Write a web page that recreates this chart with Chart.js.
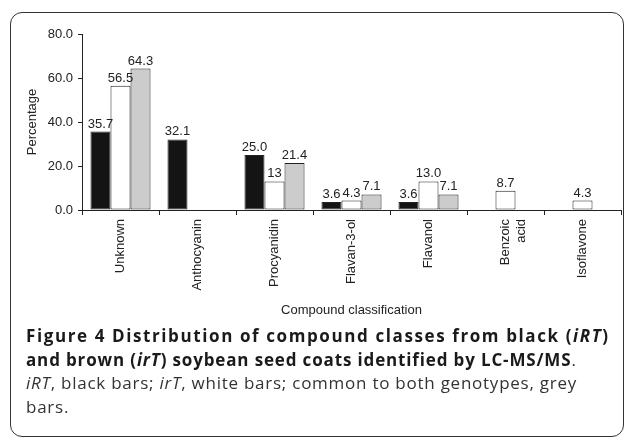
<!DOCTYPE html>
<html>
<head>
<meta charset="utf-8">
<script src="https://cdn.jsdelivr.net/npm/chart.js@4"></script>
<style>
  body { margin: 0; background: #fff; width: 630px; height: 440px; position: relative; overflow: hidden; }
  #frame {
    position: absolute; left: 10px; top: 12px; width: 614px; height: 425px;
    border: 1.5px solid #333; border-radius: 12px; box-sizing: border-box;
  }
  #chart { position: absolute; left: 0; top: 0; }
  #caption {
    position: absolute; left: 26px; top: 324px; width: 600px;
    font-family: "Open Sans", "Noto Sans", sans-serif; font-size: 17px; line-height: 23.5px;
    color: #333; white-space: nowrap; letter-spacing: 0.75px;
  }
  #caption b { color: #1a1a1a; font-weight: 700; letter-spacing: 1.6px; }
  #caption b.tight { letter-spacing: 0.85px; }
</style>
</head>
<body>
<div id="frame"></div>
<canvas id="chart" width="630" height="330"></canvas>
<div id="caption">
  <b>Figure 4 Distribution of compound classes from black (<i>iRT</i>)</b><br>
  <b class="tight">and brown (<i>irT</i>) soybean seed coats identified by LC-MS/MS</b>.<br>
  <i>iRT</i>, black bars; <i>irT</i>, white bars; common to both genotypes, grey<br>
  bars.
</div>
<script>
// Chart data
const categories = ["Unknown", "Anthocyanin", "Procyanidin", "Flavan-3-ol", "Flavanol", ["Benzoic", "acid"], "Isoflavone"];
const blackValues = [35.7, 32.1, 25.0, 3.6, 3.6, null, null];
const whiteValues = [56.5, null, 13, 4.3, 13.0, 8.7, 4.3];
const greyValues = [64.3, null, 21.4, 7.1, 7.1, null, null];
const blackLabels = ["35.7", "32.1", "25.0", "3.6", "3.6", "", ""];
const whiteLabels = ["56.5", "", "13", "4.3", "13.0", "8.7", "4.3"];
const greyLabels = ["64.3", "", "21.4", "7.1", "7.1", "", ""];
const yTicks = [0, 20, 40, 60, 80];

const fontFamily = '"Liberation Sans", Arial, sans-serif';
const ink = "#222";

// Draws the value text above every bar
const barLabels = {
  id: "barLabels",
  afterDatasetsDraw(chart) {
    const ctx = chart.ctx;
    ctx.save();
    ctx.font = "13px " + fontFamily;
    ctx.fillStyle = ink;
    ctx.textAlign = "center";
    ctx.textBaseline = "bottom";
    chart.data.datasets.forEach((ds, i) => {
      const meta = chart.getDatasetMeta(i);
      meta.data.forEach((bar, j) => {
        if (ds.data[j] === null) return;
        ctx.fillText(ds.valueLabels[j], bar.x, bar.y - 1);
      });
    });
    ctx.restore();
  },
};

const ctx = document.getElementById("chart").getContext("2d");
new Chart(ctx, {
  type: "bar",
  data: {
    labels: categories,
    datasets: [
      { data: blackValues, valueLabels: blackLabels, backgroundColor: "#141414" },
      { data: whiteValues, valueLabels: whiteLabels, backgroundColor: "#ffffff" },
      { data: greyValues, valueLabels: greyLabels, backgroundColor: "#cccccc" },
    ].map((d) => ({
      ...d,
      borderColor: ink,
      borderWidth: 1,
      borderSkipped: false,
      categoryPercentage: 0.78,
      barPercentage: 1.0,
    })),
  },
  options: {
    responsive: false,
    devicePixelRatio: 1,
    animation: false,
    layout: { padding: { top: 34, right: 9, bottom: 0, left: 0 } },
    plugins: { legend: { display: false }, tooltip: { enabled: false } },
    scales: {
      x: {
        grid: { offset: true, drawOnChartArea: false, drawTicks: true, tickLength: 5, color: ink },
        border: { display: true, color: ink, width: 1 },
        ticks: {
          color: ink,
          font: { family: fontFamily, size: 13 },
          minRotation: 90,
          maxRotation: 90,
          padding: 4,
          autoSkip: false,
        },
        title: {
          display: true,
          text: "Compound classification",
          color: ink,
          font: { family: fontFamily, size: 13 },
          padding: { top: 0, bottom: 12 },
        },
        afterFit(scale) {
          scale.height = 120;
        },
      },
      y: {
        min: 0,
        max: 80,
        afterBuildTicks(scale) {
          scale.ticks = yTicks.map((v) => ({ value: v }));
        },
        grid: { drawOnChartArea: false, drawTicks: true, tickLength: 4, color: ink },
        border: { display: true, color: ink, width: 1 },
        ticks: {
          color: ink,
          font: { family: fontFamily, size: 13 },
          padding: 5,
          callback: (v) => v.toFixed(1),
        },
        title: {
          display: true,
          text: "Percentage",
          color: ink,
          font: { family: fontFamily, size: 13 },
          padding: { top: 25, bottom: 0 },
        },
        afterFit(scale) {
          scale.width = 82;
        },
      },
    },
  },
  plugins: [barLabels],
});
</script>
</body>
</html>
